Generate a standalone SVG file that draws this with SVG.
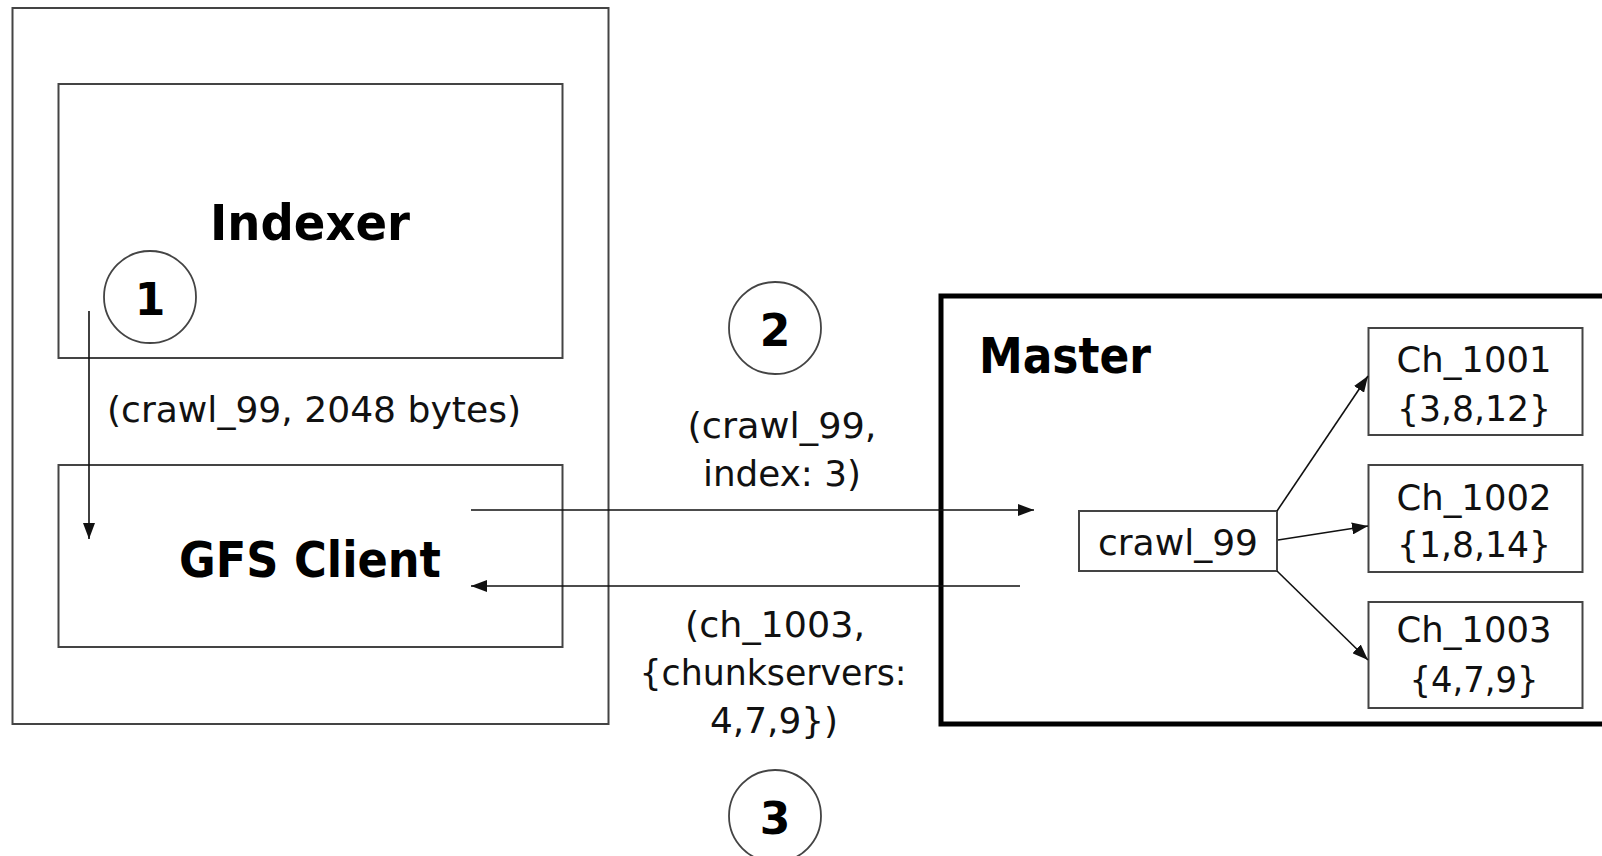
<svg xmlns="http://www.w3.org/2000/svg" width="1602" height="856" viewBox="0 0 1602 856">
  <defs>
    <marker id="arrow" markerUnits="userSpaceOnUse" markerWidth="16" markerHeight="12" refX="16" refY="6" orient="auto">
      <path d="M0,0 L16,6 L0,12 z" fill="#111"/>
    </marker>
    <style>
      .box { fill: none; stroke: #444; stroke-width: 2; }
      .master { fill: none; stroke: #000; stroke-width: 5; }
      .ring { fill: #fff; stroke: #444; stroke-width: 1.8; }
      .link { fill: none; stroke: #111; stroke-width: 1.6; marker-end: url(#arrow); }
      .bold { font-family: "DejaVu Sans", Verdana, sans-serif; font-weight: bold; fill: #000; }
      .lbl { font-family: "DejaVu Sans", Verdana, sans-serif; font-size: 36px; fill: #111; }
      .mid { text-anchor: middle; }
    </style>
  </defs>
  <rect width="1602" height="856" fill="#fff"/>

  <!-- client machine -->
  <g id="machine">
    <rect class="box" x="12.5" y="8" width="596" height="716"/>
  </g>

  <g id="indexer">
    <rect class="box" x="58.5" y="84" width="504" height="274"/>
    <text class="bold" x="210" y="240" font-size="50" textLength="200" lengthAdjust="spacingAndGlyphs">Indexer</text>
  </g>

  <g id="gfs-client">
    <rect class="box" x="58.5" y="465" width="504" height="182"/>
    <text class="bold" x="179" y="577" font-size="50" textLength="262" lengthAdjust="spacingAndGlyphs">GFS Client</text>
  </g>

  <!-- master with its chunk table -->
  <g id="master">
    <rect class="master" x="941" y="296" width="700" height="428"/>
    <text class="bold" x="979" y="373" font-size="50" textLength="172" lengthAdjust="spacingAndGlyphs">Master</text>
  </g>

  <g id="file-crawl99">
    <rect class="box" x="1079" y="511" width="198" height="60"/>
    <text class="lbl mid" x="1178" y="555" textLength="160" lengthAdjust="spacingAndGlyphs">crawl_99</text>
  </g>

  <g id="chunk-1001">
    <rect class="box" x="1368.5" y="328" width="214" height="107"/>
    <text class="lbl mid" x="1474" y="372" textLength="155" lengthAdjust="spacingAndGlyphs">Ch_1001</text>
    <text class="lbl mid" x="1474" y="421" textLength="154" lengthAdjust="spacingAndGlyphs">{3,8,12}</text>
  </g>

  <g id="chunk-1002">
    <rect class="box" x="1368.5" y="465" width="214" height="107"/>
    <text class="lbl mid" x="1474" y="510" textLength="155" lengthAdjust="spacingAndGlyphs">Ch_1002</text>
    <text class="lbl mid" x="1474" y="557" textLength="154" lengthAdjust="spacingAndGlyphs">{1,8,14}</text>
  </g>

  <g id="chunk-1003">
    <rect class="box" x="1368.5" y="602" width="214" height="106"/>
    <text class="lbl mid" x="1474" y="642" textLength="155" lengthAdjust="spacingAndGlyphs">Ch_1003</text>
    <text class="lbl mid" x="1474" y="692" textLength="129" lengthAdjust="spacingAndGlyphs">{4,7,9}</text>
  </g>

  <!-- step markers -->
  <g id="step-1">
    <circle class="ring" cx="150" cy="297" r="46"/>
    <text class="bold mid" x="150" y="315" font-size="44">1</text>
  </g>
  <g id="step-2">
    <circle class="ring" cx="775" cy="328" r="46"/>
    <text class="bold mid" x="775" y="346" font-size="44">2</text>
  </g>
  <g id="step-3">
    <circle class="ring" cx="775" cy="816" r="46"/>
    <text class="bold mid" x="775" y="834" font-size="44">3</text>
  </g>

  <!-- connectors -->
  <g id="connectors">
    <line class="link" x1="89" y1="311" x2="89" y2="539"/>
    <line class="link" x1="471" y1="510" x2="1034" y2="510"/>
    <line class="link" x1="1020" y1="586" x2="471" y2="586"/>
    <line class="link" x1="1277" y1="511" x2="1368" y2="376"/>
    <line class="link" x1="1278" y1="540" x2="1368" y2="526"/>
    <line class="link" x1="1277" y1="571" x2="1368" y2="660"/>
  </g>

  <!-- message labels -->
  <g id="labels">
    <text class="lbl" x="107" y="422" textLength="414" lengthAdjust="spacingAndGlyphs">(crawl_99, 2048 bytes)</text>
    <text class="lbl mid" x="782" y="438" textLength="189" lengthAdjust="spacingAndGlyphs">(crawl_99,</text>
    <text class="lbl mid" x="782" y="486" textLength="158" lengthAdjust="spacingAndGlyphs">index: 3)</text>
    <text class="lbl mid" x="775" y="637" textLength="180" lengthAdjust="spacingAndGlyphs">(ch_1003,</text>
    <text class="lbl mid" x="773" y="685" textLength="267" lengthAdjust="spacingAndGlyphs">{chunkservers:</text>
    <text class="lbl mid" x="774" y="733" textLength="128" lengthAdjust="spacingAndGlyphs">4,7,9})</text>
  </g>
</svg>
